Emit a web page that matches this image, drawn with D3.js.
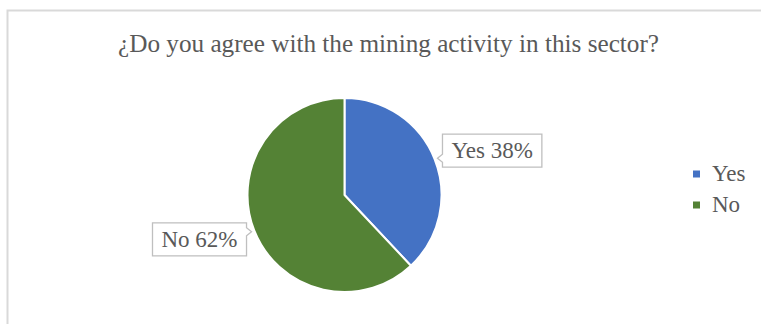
<!DOCTYPE html>
<html>
<head>
<meta charset="utf-8">
<script src="https://cdn.jsdelivr.net/npm/d3@7"></script>
<style>
  html, body { margin: 0; padding: 0; background: #fff; }
  svg { display: block; }
</style>
</head>
<body>
<svg id="chart" width="761" height="324"></svg>
<script>
const title = "¿Do you agree with the mining activity in this sector?";
const categories = ["Yes", "No"];
const shares = [38, 62];
const colors = ["#4472C4", "#548235"];

const FONT = "Liberation Serif";
const TEXT_COLOR = "#595959";

const svg = d3.select("#chart");
const W = 761, H = 324;

// chart area frame (continues past the window edge on the right and bottom)
svg.append("rect")
  .attr("x", 7.5).attr("y", 10.5)
  .attr("width", W + 40).attr("height", H + 40)
  .attr("fill", "#fff")
  .attr("stroke", "#d9d9d9").attr("stroke-width", 2);

// title
svg.append("text")
  .attr("x", 388.5).attr("y", 52)
  .attr("text-anchor", "middle")
  .attr("font-family", FONT)
  .attr("fill", TEXT_COLOR)
  .attr("font-size", 26)
  .attr("textLength", 541)
  .attr("lengthAdjust", "spacingAndGlyphs")
  .text(title);

// pie
const cx = 344.5, cy = 195, R = 97;
const data = categories.map((c, i) => ({ name: c, value: shares[i], color: colors[i] }));
const pie = d3.pie().sort(null).value(d => d.value);
const arc = d3.arc().innerRadius(0).outerRadius(R);
const arcs = pie(data);

const g = svg.append("g").attr("transform", `translate(${cx},${cy})`);
g.selectAll("path.slice")
  .data(arcs)
  .join("path")
  .attr("class", "slice")
  .attr("d", arc)
  .attr("fill", d => d.data.color)
  .attr("stroke", "#fff")
  .attr("stroke-width", 2)
  .attr("stroke-linejoin", "round");

// callout labels with a pointer toward the slice edge
const tipR = R + 3;
const fontSize = 23;
arcs.forEach(a => {
  const mid = (a.startAngle + a.endAngle) / 2;
  const tx = Math.sin(mid) * tipR;
  const ty = -Math.cos(mid) * tipR;
  const right = Math.sin(mid) >= 0;
  const label = `${a.data.name} ${a.data.value}%`;

  const lg = g.append("g");
  const t = lg.append("text")
    .attr("font-family", FONT)
    .attr("fill", TEXT_COLOR)
    .attr("font-size", fontSize)
    .text(label);
  const tw = t.node().getComputedTextLength();
  const bw = tw + 18, bh = 33;
  const gap = 5;
  const bx = right ? tx + gap : tx - gap - bw;
  const by = right ? ty - 24 : ty - 9;
  const edge = right ? bx : bx + bw;
  const n = 4;
  const p = d3.path();
  if (right) {
    p.moveTo(bx, by);
    p.lineTo(bx + bw, by);
    p.lineTo(bx + bw, by + bh);
    p.lineTo(bx, by + bh);
    p.lineTo(edge, ty + n);
    p.lineTo(tx, ty);
    p.lineTo(edge, ty - n);
    p.closePath();
  } else {
    p.moveTo(bx, by);
    p.lineTo(bx + bw, by);
    p.lineTo(edge, ty - n);
    p.lineTo(tx, ty);
    p.lineTo(edge, ty + n);
    p.lineTo(bx + bw, by + bh);
    p.lineTo(bx, by + bh);
    p.closePath();
  }
  lg.insert("path", "text")
    .attr("d", p.toString())
    .attr("fill", "#fff")
    .attr("stroke", "#bfbfbf")
    .attr("stroke-width", 1.3);
  t.attr("x", bx + bw / 2).attr("y", by + bh / 2 + 7.5)
    .attr("text-anchor", "middle");
});

// legend
const legend = svg.append("g").attr("transform", "translate(693,174)");
const item = legend.selectAll("g")
  .data(data)
  .join("g")
  .attr("transform", (d, i) => `translate(0,${i * 31})`);
item.append("rect")
  .attr("x", 0).attr("y", -3.5)
  .attr("width", 7).attr("height", 7)
  .attr("fill", d => d.color);
item.append("text")
  .attr("x", 19).attr("y", 7)
  .attr("font-family", FONT)
  .attr("fill", TEXT_COLOR)
  .attr("font-size", 23)
  .text(d => d.name);
</script>
</body>
</html>
